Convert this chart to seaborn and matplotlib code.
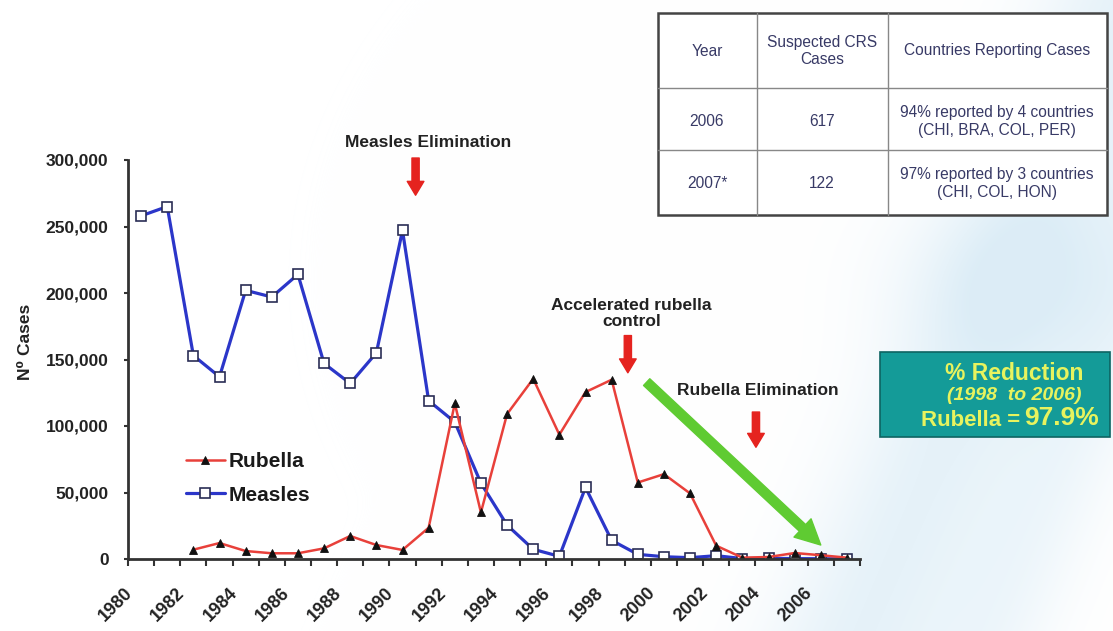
import numpy as np
import pandas as pd
import matplotlib
matplotlib.use("Agg")
import matplotlib.pyplot as plt
import seaborn as sns
from matplotlib.patches import Rectangle
from matplotlib.ticker import FixedLocator, FuncFormatter
from matplotlib.transforms import ScaledTranslation

# ---------------------------------------------------------------- data
years = list(range(1980, 2008))
measles_cases = [258000, 265000, 153000, 137000, 202000, 197000, 214000,
                 147000, 132000, 155000, 247000, 119000, 103000, 57000,
                 25500, 7300, 2000, 53800, 14000, 3500, 1700, 1000, 2500,
                 300, 500, 300, 200, 100]
rubella_years = list(range(1982, 2008))
rubella_cases = [7000, 12000, 6000, 4300, 4300, 8000, 17300, 10500, 6800,
                 23500, 117000, 35000, 109000, 135500, 93500, 125500, 134800,
                 57500, 63800, 49300, 10000, 1000, 1500, 4500, 2850, 1000]
tick_years = list(range(1980, 2007, 2))
y_ticks = [0, 50000, 100000, 150000, 200000, 250000, 300000]

table_header = ["Year", "Suspected CRS\nCases", "Countries Reporting Cases"]
crs_years = ["2006", "2007*"]
crs_cases = ["617", "122"]
crs_countries = ["94% reported by 4 countries\n(CHI, BRA, COL, PER)",
                 "97% reported by 3 countries\n(CHI, COL, HON)"]

reduction_title = "% Reduction"
reduction_period = "(1998  to 2006)"
reduction_label = "Rubella ="
reduction_value = "97.9%"

measles_df = pd.DataFrame({"year": years, "cases": measles_cases})
rubella_df = pd.DataFrame({"year": rubella_years, "cases": rubella_cases})

# ---------------------------------------------------------------- style
sns.set_theme(style="white")
plt.rcParams["font.family"] = ["Liberation Sans", "DejaVu Sans"]

W, H = 1113, 631
fig = plt.figure(figsize=(W / 100, H / 100), dpi=100)
fig.patch.set_facecolor("white")


def fx(px):
    return px / W


def fy(py):
    return 1 - py / H


# soft light-blue swoosh in the slide background
bg = fig.add_axes([0, 0, 1, 1], zorder=-10)
bg.axis("off")
yy, xx = np.mgrid[0:H, 0:W].astype(float)


def band(x0, y0, x1, y1, width):
    dx, dy = x1 - x0, y1 - y0
    d = np.abs(dy * (xx - x0) - dx * (yy - y0)) / np.hypot(dx, dy)
    return np.exp(-(d / width) ** 2)


haze = 0.5 * band(1113, 40, 860, 631, 85)
haze += 0.3 * band(1113, 330, 990, 631, 60)
haze += 0.3 * np.exp(-(((xx - 1010) / 120) ** 2 + ((yy - 280) / 90) ** 2))
haze = np.clip(haze, 0, 0.7)
tint = np.array([205, 229, 243]) / 255.0
img = (1 - haze[..., None]) * 1.0 + haze[..., None] * tint
bg.imshow(img, extent=[0, 1, 0, 1], aspect="auto", origin="upper")
bg.set_xlim(0, 1)
bg.set_ylim(0, 1)

# ---------------------------------------------------------------- main axes
ax = fig.add_axes([fx(128), fy(559), fx(860) - fx(128), fy(160) - fy(559)])
ax.patch.set_alpha(0)

sns.lineplot(data=measles_df, x="year", y="cases", ax=ax, color="#2b36c9",
             linewidth=2.3, marker="s", markersize=6.5,
             markerfacecolor="white", markeredgecolor="#2a2d55",
             markeredgewidth=1.2, errorbar=None, label="Measles")
sns.lineplot(data=rubella_df, x="year", y="cases", ax=ax, color="#e8403a",
             linewidth=1.8, marker="^", markersize=6,
             markerfacecolor="#111111", markeredgecolor="#111111",
             markeredgewidth=0.6, errorbar=None, label="Rubella")

ax.set_xlim(1979.5, 2007.5)
ax.set_ylim(0, 300000)
ax.set_xlabel("")
for side in ("top", "right"):
    ax.spines[side].set_visible(False)
for side in ("left", "bottom"):
    ax.spines[side].set_color("#333333")
    ax.spines[side].set_linewidth(2)

ax.yaxis.set_major_locator(FixedLocator(y_ticks))
ax.yaxis.set_major_formatter(FuncFormatter(lambda v, p: f"{v:,.0f}"))
ax.tick_params(axis="y", which="major", direction="out", length=3,
               width=1.5, color="#333333", pad=11, labelsize=12.5,
               labelcolor="#222222", left=True)
for lab in ax.get_yticklabels():
    lab.set_fontweight("bold")

ax.xaxis.set_major_locator(FixedLocator(tick_years))
ax.xaxis.set_minor_locator(FixedLocator(np.arange(1979.5, 2008, 1.0)))
ax.tick_params(axis="x", which="major", length=0, pad=18.5)
ax.tick_params(axis="x", which="minor", direction="out", length=5,
               width=1.5, color="#333333", bottom=True)
ax.set_xticklabels([str(y) for y in tick_years], rotation=45, ha="right",
                   rotation_mode="anchor", fontsize=13, fontweight="bold",
                   color="#222222")
shift = ScaledTranslation(-0.17, 0, fig.dpi_scale_trans)
for lab in ax.get_xticklabels():
    lab.set_transform(lab.get_transform() + shift)

ax.set_ylabel("N\u2070 Cases", fontsize=12.5, fontweight="bold",
              color="#222222")
ax.yaxis.set_label_coords(-0.13, 0.544)

# legend: Rubella first, then Measles
handles, labels = ax.get_legend_handles_labels()
order = [labels.index("Rubella"), labels.index("Measles")]
ax.legend([handles[i] for i in order], [labels[i] for i in order],
          loc="upper left", bbox_to_anchor=(fx(186), fy(452)),
          bbox_transform=fig.transFigure, frameon=False,
          prop={"size": 15, "weight": "bold"}, handlelength=1.85,
          handletextpad=0.2, labelspacing=0.7, borderpad=0,
          borderaxespad=0)
for t in ax.get_legend().get_texts():
    t.set_color("#1a1a1a")

# ---------------------------------------------------------------- event markers
red = "#e5231f"
red_arrow = dict(arrowstyle="simple,head_width=0.6,head_length=0.5,tail_width=0.26",
                 color=red, shrinkA=0, shrinkB=0, mutation_scale=20)
text_kw = dict(ha="center", va="center", fontsize=12.5, fontweight="bold",
               color="#222222", annotation_clip=False)

ax.annotate("Measles Elimination", xy=(1990.97, 313500), **text_kw)
ax.annotate("", xy=(1990.5, 273500), xytext=(1990.5, 301500),
            arrowprops=red_arrow, annotation_clip=False)

ax.annotate("Accelerated rubella\ncontrol", xy=(1998.76, 184500),
            linespacing=1.1, **text_kw)
ax.annotate("", xy=(1998.62, 140000), xytext=(1998.62, 168000),
            arrowprops=red_arrow, annotation_clip=False)

ax.annotate("Rubella Elimination", xy=(2003.6, 126750), **text_kw)
ax.annotate("", xy=(2003.52, 84000), xytext=(2003.52, 110500),
            arrowprops=red_arrow, annotation_clip=False)

ax.annotate("", xy=(2006.0, 10500), xytext=(1999.34, 133000),
            arrowprops=dict(arrowstyle="simple,head_width=0.6,head_length=0.6,tail_width=0.22",
                            color="#5fcb32", shrinkA=0, shrinkB=0,
                            mutation_scale=30),
            annotation_clip=False)

# ---------------------------------------------------------------- CRS table
tab = fig.add_axes([fx(655), fy(218), fx(1110) - fx(655), fy(10) - fy(218)])
tab.set_xlim(655, 1110)
tab.set_ylim(218, 10)
tab.axis("off")
tab.add_patch(Rectangle((658, 13), 1107 - 658, 215 - 13, facecolor="white",
                        edgecolor="#444444", linewidth=1.8, zorder=2))
line_kw = dict(color="#888888", linewidth=1.0, zorder=3)
for cx in (757, 888):
    tab.plot([cx, cx], [13, 215], **line_kw)
for ry in (88, 150):
    tab.plot([658, 1107], [ry, ry], **line_kw)

col_centers = [707, 822, 997]
row_centers = [51, 121, 184]
cell_kw = dict(ha="center", va="center", fontsize=11.2, color="#383a66",
               linespacing=1.25, zorder=4)
for cx, txt in zip(col_centers, table_header):
    tab.text(cx, row_centers[0], txt, **cell_kw)
for ry, yr, n, ctry in zip(row_centers[1:], crs_years, crs_cases, crs_countries):
    tab.text(col_centers[0], ry, yr, **cell_kw)
    tab.text(col_centers[1], ry, n, **cell_kw)
    tab.text(col_centers[2], ry, ctry, **cell_kw)

# ---------------------------------------------------------------- reduction box
fig.add_artist(Rectangle((fx(880), fy(437)), fx(1110) - fx(880),
                         fy(352) - fy(437), transform=fig.transFigure,
                         facecolor="#149b98", edgecolor="#0d6462",
                         linewidth=1.2))
yellow = "#e7f35e"
fig.text(fx(1014), fy(373), reduction_title, ha="center", va="center",
         fontsize=16.5, fontweight="bold", color=yellow)
fig.text(fx(1014), fy(396), reduction_period, ha="center", va="center",
         fontsize=14, fontweight="bold", style="italic", color=yellow)
fig.text(fx(1020), fy(420), reduction_label, ha="right", va="center",
         fontsize=16, fontweight="bold", color=yellow)
fig.text(fx(1024), fy(418), reduction_value, ha="left", va="center",
         fontsize=19, fontweight="bold", color=yellow)

fig.savefig("out.png", dpi=100, facecolor="white")
